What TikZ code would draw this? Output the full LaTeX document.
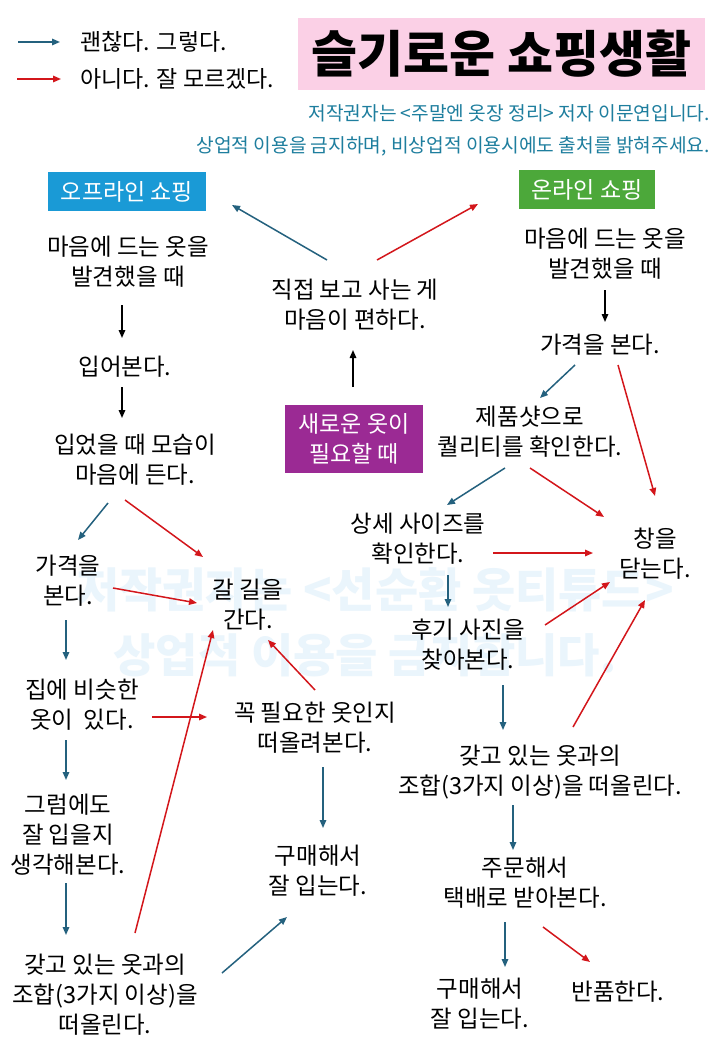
\documentclass[tikz,border=0pt]{standalone}
\usepackage{fontspec}
\setmainfont{Noto Sans CJK KR}
\usetikzlibrary{calc,arrows.meta}
\definecolor{tealc}{HTML}{24617E}
\definecolor{redc}{HTML}{D3161B}
\definecolor{copyc}{HTML}{1E7E9E}
\definecolor{pinkc}{HTML}{FBD0E6}
\definecolor{offc}{HTML}{1A9AD6}
\definecolor{onc}{HTML}{4CA83A}
\definecolor{newc}{HTML}{9B2A94}
\definecolor{wmc}{HTML}{EAF5FC}
\tikzset{
  txt/.style={align=center, inner sep=0pt, font=\fontsize{23.5}{30}\selectfont},
  hbox/.style={inner sep=0pt, text=white, align=center, font=\fontsize{23}{30}\selectfont},
  ta/.style={draw=tealc, line width=1.5pt, -{Triangle[length=8pt,width=6.5pt]}},
  ra/.style={draw=redc, line width=1.5pt, -{Triangle[length=8pt,width=6.5pt]}},
  ka/.style={draw=black, line width=1.5pt, -{Triangle[length=8pt,width=6.5pt]}},
}
\begin{document}
\begin{tikzpicture}[x=1pt,y=-1pt]
\useasboundingbox (0,0) rectangle (720,1040);
\fill[white] (0,0) rectangle (720,1040);
% watermark
\node[text=wmc, font=\bfseries\fontsize{47}{50}\selectfont, inner sep=0pt] (WM1) at (375,590) {저작권자는 <선순환 옷티튜드>};
\node[text=wmc, font=\bfseries\fontsize{46}{50}\selectfont, inner sep=0pt] (WM2) at (365,655) {상업적 이용을 금지합니다.};
% title
\node[fill=pinkc, minimum width=407pt, minimum height=72pt, inner sep=0pt, font=\bfseries\fontsize{50}{54}\selectfont] (T) at (501.5,54) {슬기로운 쇼핑생활};
\node[text=copyc, anchor=east, inner sep=0pt, font=\fontsize{19.2}{22}\selectfont] (CP1) at (710,113) {저작권자는 <주말엔 옷장 정리> 저자 이문연입니다.};
\node[text=copyc, anchor=east, inner sep=0pt, font=\fontsize{19.2}{22}\selectfont] (CP2) at (710,146) {상업적 이용을 금지하며, 비상업적 이용시에도 출처를 밝혀주세요.};
% legend
\node[anchor=west, inner sep=0pt, font=\fontsize{23}{30}\selectfont] (LG1) at (80,42) {괜찮다. 그렇다.};
\node[anchor=west, inner sep=0pt, font=\fontsize{23}{30}\selectfont] (LG2) at (80,79) {아니다. 잘 모르겠다.};
\draw[ta] ($(LG1.west)+(-62,0)$) -- ($(LG1.west)+(-20,0)$);
\draw[ra] ($(LG2.west)+(-63,0)$) -- ($(LG2.west)+(-19,0)$);
% header boxes
\node[hbox, fill=offc, minimum width=158pt, minimum height=39pt] (OFF) at (127,192) {오프라인 쇼핑};
\node[hbox, fill=onc, minimum width=136pt, minimum height=39pt] (ON) at (587,190) {온라인 쇼핑};
\node[hbox, fill=newc, minimum width=138pt, minimum height=68pt, font=\fontsize{23}{30}\selectfont] (NEW) at (354,439) {새로운 옷이\\필요할 때};
% left column
\node[txt] (L1) at (128,262) {마음에 드는 옷을\\발견했을 때};
\node[txt] (L2) at (125,367) {입어본다.};
\node[txt] (L3) at (135,460) {입었을 때 모습이\\마음에 든다.};
\node[txt] (L4) at (68,581) {가격을\\본다.};
\node[txt] (L5) at (82,705) {집에 비슷한\\옷이~~있다.};
\node[txt] (L6) at (68,835) {그럼에도\\잘 입을지\\생각해본다.};
\node[txt] (L7) at (105,995) {갖고 있는 옷과의\\조합(3가지 이상)을\\떠올린다.};
% middle
\node[txt] (C1) at (355,305) {직접 보고 사는 게\\마음이 편하다.};
\node[txt] (M1) at (248,605) {갈 길을\\간다.};
\node[txt] (M2) at (315,728) {꼭 필요한 옷인지\\떠올려본다.};
\node[txt] (M3) at (318,871) {구매해서\\잘 입는다.};
% right column
\node[txt] (R1) at (605,254) {마음에 드는 옷을\\발견했을 때};
\node[txt] (R2) at (600,345) {가격을 본다.};
\node[txt] (R3) at (530,432) {제품샷으로\\퀄리티를 확인한다.};
\node[txt] (R4) at (418,539) {상세 사이즈를\\확인한다.};
\node[txt] (R5) at (655,554) {창을\\닫는다.};
\node[txt] (R6) at (468,645) {후기 사진을\\찾아본다.};
\node[txt] (R7) at (540,772) {갖고 있는 옷과의\\조합(3가지 이상)을 떠올린다.};
\node[txt] (R8) at (525,883) {주문해서\\택배로 받아본다.};
\node[txt] (R9) at (480,1004) {구매해서\\잘 입는다.};
\node[txt] (R10) at (618,992) {반품한다.};
% arrows
\draw[ka] ($(L1)+(-6,43)$) -- ($(L2)+(-3,-29)$);
\draw[ka] ($(L2)+(-3,20)$) -- ($(L3)+(-13,-42)$);
\draw[ka] ($(R1)+(0,36)$) -- ($(R2)+(5,-23)$);
\draw[ka] ($(NEW)+(-1,-52)$) -- ($(C1)+(-2,45)$);
\draw[ta] ($(C1)+(-28,-45)$) -- ($(OFF)+(105,13)$);
\draw[ra] ($(C1)+(22,-45)$) -- ($(ON)+(-109,14)$);
\draw[ta] ($(L3)+(-27,43)$) -- ($(L4)+(10,-41)$);
\draw[ra] ($(L3)+(-10,40)$) -- ($(M1)+(-45,-48)$);
\draw[ra] ($(L4)+(45,7)$) -- ($(M1)+(-51,-2)$);
\draw[ta] ($(L4)+(-2,39)$) -- ($(L5)+(-16,-45)$);
\draw[ta] ($(L5)+(-16,35)$) -- ($(L6)+(-2,-55)$);
\draw[ra] ($(L5)+(70,12)$) -- ($(M2)+(-108,-11)$);
\draw[ta] ($(L6)+(-2,48)$) -- ($(L7)+(-39,-60)$);
\draw[ra] ($(L7)+(30,-62)$) -- ($(M1)+(-35,25)$);
\draw[ta] ($(L7)+(117,-22)$) -- ($(M3)+(-31,46)$);
\draw[ra] ($(M2)+(0,-38)$) -- ($(M1)+(20,35)$);
\draw[ta] ($(M2)+(8,39)$) -- ($(M3)+(5,-43)$);
\draw[ta] ($(R2)+(-25,20)$) -- ($(R3)+(10,-34)$);
\draw[ra] ($(R2)+(18,20)$) -- ($(R5)+(0,-58)$);
\draw[ta] ($(R3)+(-25,36)$) -- ($(R4)+(29,-34)$);
\draw[ra] ($(R3)+(0,36)$) -- ($(R5)+(-51,-37)$);
\draw[ra] ($(R4)+(75,14)$) -- ($(R5)+(-62,-1)$);
\draw[ta] ($(R4)+(30,36)$) -- ($(R6)+(-20,-38)$);
\draw[ra] ($(R6)+(77,-20)$) -- ($(R5)+(-45,28)$);
\draw[ta] ($(R6)+(35,40)$) -- ($(R7)+(-37,-42)$);
\draw[ra] ($(R7)+(33,-45)$) -- ($(R5)+(-10,46)$);
\draw[ta] ($(R7)+(-27,33)$) -- ($(R8)+(-12,-33)$);
\draw[ta] ($(R8)+(-20,39)$) -- ($(R9)+(25,-37)$);
\draw[ra] ($(R8)+(18,44)$) -- ($(R10)+(-28,-30)$);
\end{tikzpicture}
\end{document}
